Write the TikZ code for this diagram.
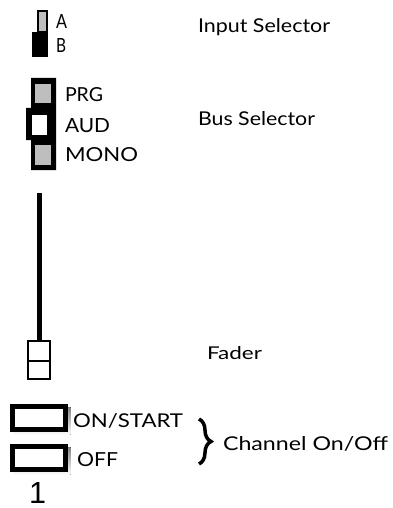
\documentclass[tikz,border=0pt]{standalone}
\usepackage{fontspec}
\setmainfont{Lato}
\newfontfamily\numfont{Liberation Sans}
\usetikzlibrary{decorations.pathreplacing}
\definecolor{keygray}{HTML}{BEBEBE}
\definecolor{shade}{HTML}{A8A8A8}
\newcommand\lbl[2]{\resizebox{#1pt}{14pt}{#2}}
\begin{document}
\begin{tikzpicture}[x=1pt,y=-1pt,
  lab/.style={anchor=base west, inner sep=0pt, outer sep=0pt},
  keyframe/.style={line width=2pt, draw=black},
  button/.style={line width=5pt, draw=black, fill=white},
  knob/.style={line width=2.5pt, draw=black, fill=white}]
\useasboundingbox[fill=white] (0,0) rectangle (393,508);

% Input selector
\fill[black] (31.7,32) rectangle (48.3,57);
\draw[keyframe, fill=keygray] (37.7,11) rectangle (47.3,32);
\node[lab] (a) at (56,29) {\lbl{11}{A}};
\node[lab] (b) at (56,53) {\lbl{10}{B}};
\node[lab] (insel) at (198,33) {\lbl{132}{Input Selector}};

% Bus selector
\fill[black] (31,78) -- (56,78) -- (56,170) -- (31,170) -- (31,140) -- (26,140) -- (26,108) -- (31,108) -- cycle;
\fill[keygray] (35,84) rectangle (51,103);
\fill[white] (32,115) rectangle (47,135);
\fill[keygray] (35,145) rectangle (51,165);
\node[lab] (prg) at (65,102) {\lbl{38}{PRG}};
\node[lab] (aud) at (65,132) {\lbl{45}{AUD}};
\node[lab] (mono) at (65,161) {\lbl{73}{MONO}};
\node[lab] (bussel) at (198,126) {\lbl{117}{Bus Selector}};

% Fader
\fill[black] (37,193) rectangle (42,341);
\draw[knob] (28.2,341.2) rectangle (49.8,378.8);
\draw[line width=2.5pt] (28.2,361) -- (49.8,361);
\node[lab] (fader) at (207,359) {\resizebox{55pt}{13pt}{Fader}};

% Channel buttons
\fill[shade] (13,407) rectangle (70.5,434.5);
\draw[button] (12.5,406.5) rectangle (65.5,429.5);
\fill[shade] (13,447) rectangle (70.5,474.5);
\draw[button] (12.5,446.5) rectangle (65.5,469.5);
\node[lab] (on) at (73,427) {\lbl{110}{ON/START}};
\node[lab] (off) at (77,466) {\lbl{41}{OFF}};
\node[lab] (num) at (29,503) {\resizebox{!}{21pt}{\numfont 1}};

% Brace
\coordinate (bt) at (199,419);
\coordinate (bb) at (199,464);
\draw[line width=3.5pt, decorate, decoration={brace, amplitude=12pt}] (bt) -- (bb);
\node[lab] (chan) at (223,450) {\lbl{165}{Channel On/Off}};
\end{tikzpicture}
\end{document}
